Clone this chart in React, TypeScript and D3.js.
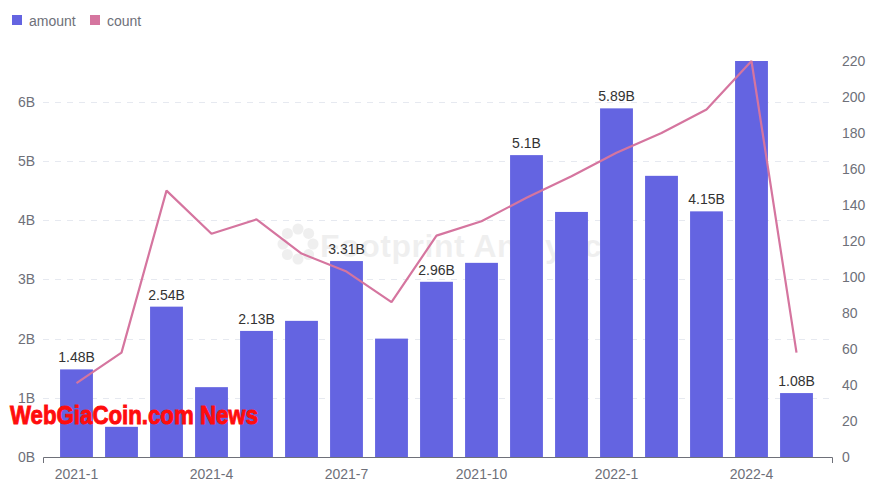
import { useEffect, useRef } from 'react'
import * as d3 from 'd3'

const months = [
  '2021-1', '2021-2', '2021-3', '2021-4', '2021-5', '2021-6', '2021-7', '2021-8', '2021-9',
  '2021-10', '2021-11', '2021-12', '2022-1', '2022-2', '2022-3', '2022-4', '2022-5'
]
// amount in billions
const amounts = [1.48, 0.51, 2.54, 1.18, 2.13, 2.3, 3.31, 2.0, 2.96, 3.28, 5.1, 4.14, 5.89, 4.75, 4.15, 6.69, 1.08]
const counts = [41, 58, 148, 124, 132, 113, 103, 86, 123, 131, 144, 156, 169, 180, 193, 220, 58]
const leftTicks = [0, 1, 2, 3, 4, 5, 6]
const rightTicks = [0, 20, 40, 60, 80, 100, 120, 140, 160, 180, 200, 220]
const xLabels = ['2021-1', '2021-4', '2021-7', '2021-10', '2022-1', '2022-4']

const W = 884
const H = 493
const BAR = '#6464e1'
const LINE = '#d5759f'
const FONT = '"Liberation Sans", Arial, sans-serif'

const App = () => {
  const svgRef = useRef<SVGSVGElement>(null)

  useEffect(() => {
    if (!svgRef.current) return
    const svg = d3.select(svgRef.current)
    svg.selectAll('*').remove()

    const top = 61
    const bottom = 457
    const axisLeft = 43
    const axisRight = 832

    const x = d3.scaleBand<string>()
      .domain(months)
      .range([54, 819])
      .paddingInner(0.27)
      .paddingOuter(0.135)

    const yL = d3.scaleLinear().domain([0, 6.69]).range([bottom, top])
    const yR = d3.scaleLinear().domain([0, 220]).range([bottom, top])

    // grid lines
    svg.append('g')
      .selectAll('line')
      .data(leftTicks.filter(t => t > 0))
      .enter()
      .append('line')
      .attr('x1', axisLeft)
      .attr('x2', axisRight)
      .attr('y1', d => Math.round(yL(d)) + 0.5)
      .attr('y2', d => Math.round(yL(d)) + 0.5)
      .attr('stroke', '#e6e9f0')
      .attr('stroke-dasharray', '6,6')

    // watermark
    const wm = svg.append('g').attr('opacity', 0.06)
    const petals = d3.range(8)
    wm.selectAll('circle')
      .data(petals)
      .enter()
      .append('circle')
      .attr('cx', d => 298 + Math.cos((d / 8) * Math.PI * 2) * 15)
      .attr('cy', d => 244 + Math.sin((d / 8) * Math.PI * 2) * 15)
      .attr('r', 5.5)
      .attr('fill', '#000')
    wm.append('text')
      .attr('x', 320)
      .attr('y', 257)
      .attr('font-family', FONT)
      .attr('font-size', 32)
      .attr('font-weight', 'bold')
      .attr('fill', '#000')
      .attr('textLength', 300)
      .text('Footprint Analytics')

    // bars
    svg.append('g')
      .selectAll('rect')
      .data(amounts)
      .enter()
      .append('rect')
      .attr('x', (_d, i) => x(months[i]) || 0)
      .attr('y', d => yL(d))
      .attr('width', x.bandwidth())
      .attr('height', d => bottom - yL(d))
      .attr('fill', BAR)

    // line
    const line = d3.line<number>()
      .x((_d, i) => (x(months[i]) || 0) + x.bandwidth() / 2)
      .y(d => yR(d))
    svg.append('path')
      .datum(counts)
      .attr('d', line)
      .attr('fill', 'none')
      .attr('stroke', LINE)
      .attr('stroke-width', 2.2)
      .attr('stroke-linejoin', 'bevel')

    // bar labels (every other bar)
    svg.append('g')
      .selectAll('text')
      .data(amounts.map((v, i) => ({ v, i })).filter(d => d.i % 2 === 0))
      .enter()
      .append('text')
      .attr('x', d => (x(months[d.i]) || 0) + x.bandwidth() / 2)
      .attr('y', d => yL(d.v) - 7)
      .attr('text-anchor', 'middle')
      .attr('font-family', FONT)
      .attr('font-size', 14)
      .attr('fill', '#333')
      .text(d => `${d.v}B`)

    // x axis
    svg.append('path')
      .attr('d', `M${axisLeft + 0.5},${bottom + 6}V${bottom + 0.5}H${axisRight + 0.5}V${bottom + 6}`)
      .attr('fill', 'none')
      .attr('stroke', '#6e7079')
    svg.append('g')
      .selectAll('text')
      .data(xLabels)
      .enter()
      .append('text')
      .attr('x', d => (x(d) || 0) + x.bandwidth() / 2)
      .attr('y', 479)
      .attr('text-anchor', 'middle')
      .attr('font-family', FONT)
      .attr('font-size', 14)
      .attr('fill', '#6e7079')
      .text(d => d)

    // left axis labels
    svg.append('g')
      .selectAll('text')
      .data(leftTicks)
      .enter()
      .append('text')
      .attr('x', 35)
      .attr('y', d => yL(d) + 5)
      .attr('text-anchor', 'end')
      .attr('font-family', FONT)
      .attr('font-size', 14)
      .attr('fill', '#6e7079')
      .text(d => `${d}B`)

    // right axis labels
    svg.append('g')
      .selectAll('text')
      .data(rightTicks)
      .enter()
      .append('text')
      .attr('x', 842)
      .attr('y', d => yR(d) + 5)
      .attr('font-family', FONT)
      .attr('font-size', 14)
      .attr('fill', '#6e7079')
      .text(d => d)

    // legend
    const legend = [{ name: 'amount', color: BAR, x: 12 }, { name: 'count', color: LINE, x: 90 }]
    const lg = svg.append('g')
    lg.selectAll('rect')
      .data(legend)
      .enter()
      .append('rect')
      .attr('x', d => d.x)
      .attr('y', 15)
      .attr('width', 10)
      .attr('height', 10)
      .attr('fill', d => d.color)
    lg.selectAll('text')
      .data(legend)
      .enter()
      .append('text')
      .attr('x', d => d.x + 17)
      .attr('y', 26)
      .attr('font-family', FONT)
      .attr('font-size', 14)
      .attr('fill', '#6e7079')
      .text(d => d.name)

    // overlay caption
    svg.append('text')
      .attr('x', 10)
      .attr('y', 424)
      .attr('font-family', FONT)
      .attr('font-size', 25)
      .attr('font-weight', 'bold')
      .attr('fill', '#ff0d0d')
      .attr('stroke', '#ff0d0d')
      .attr('stroke-width', 0.9)
      .attr('textLength', 248)
      .attr('lengthAdjust', 'spacingAndGlyphs')
      .text('WebGiaCoin.com News')
  }, [])

  return (
    <svg
      ref={svgRef}
      width={W}
      height={H}
      style={{ position: 'absolute', left: 0, top: 0, background: '#fff' }}
    />
  )
}

export default App
